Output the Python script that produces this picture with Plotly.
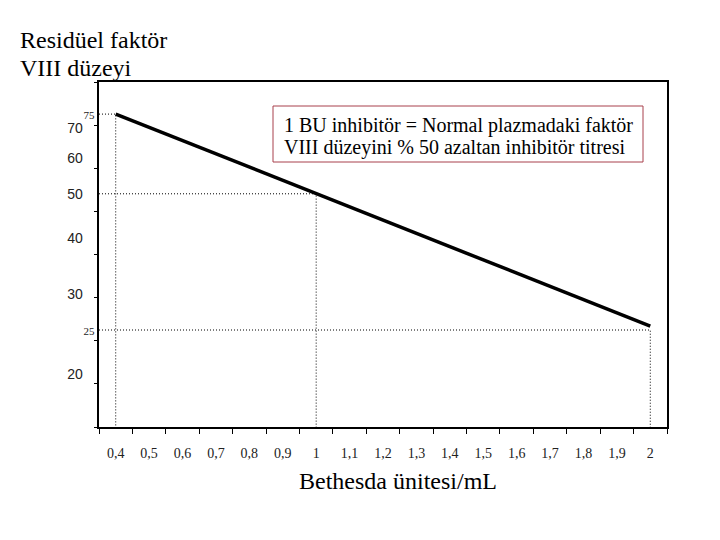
import math
import plotly.graph_objects as go

# Data
bu_values = [0.4, 1.0, 2.0]
residual_values = [75, 50, 25.5]

guide_points_x = [0.4, 1.0, 2.0]
guide_points_y = [75, 50, 25]

x_tickvals = [0.4, 0.5, 0.6, 0.7, 0.8, 0.9, 1.0, 1.1, 1.2, 1.3, 1.4, 1.5, 1.6, 1.7, 1.8, 1.9, 2.0]
x_ticktext = ["0,4", "0,5", "0,6", "0,7", "0,8", "0,9", "1", "1,1", "1,2", "1,3",
              "1,4", "1,5", "1,6", "1,7", "1,8", "1,9", "2"]

y_tickvals = [20, 25, 30, 40, 50, 60, 70, 75]
y_small = {25, 75}

title_lines = ["Residüel faktör", "VIII düzeyi"]
note_lines = ["1 BU inhibitör = Normal plazmadaki faktör",
              "VIII düzeyini % 50 azaltan inhibitör titresi"]
x_title = "Bethesda ünitesi/mL"

X_MIN, X_MAX = 0.35, 2.05
Y_LOG_MIN, Y_LOG_MAX = 1.1836, 1.946
Y_MIN = 10 ** Y_LOG_MIN

serif = "Liberation Serif, Times New Roman, serif"
sans = "Liberation Sans, Arial, sans-serif"

# page has an 8px body margin; target pixel positions are in screenshot coords
OFF = 8
PL, PR, PT, PB = 99, 667, 82, 427
W, H = 720, 540
PW, PH = PR - PL, PB - PT


def px_x(x):
    return (x - PL) / PW


def px_y(y):
    return 1 - (y - PT) / PH


y_ticktext = []
for v in y_tickvals:
    if v in y_small:
        y_ticktext.append(f'<span style="font-family:{serif};font-size:11px">{v}</span>')
    else:
        y_ticktext.append(f"{v}" + "\u00a0" * 3)

fig = go.Figure()

# dotted guide lines
for gx, gy in zip(guide_points_x, guide_points_y):
    fig.add_trace(go.Scatter(
        x=[X_MIN, gx, gx], y=[gy, gy, Y_MIN],
        mode="lines", line=dict(color="black", width=1, dash="1px,2px"),
        hoverinfo="skip", showlegend=False))

# main line
fig.add_trace(go.Scatter(
    x=bu_values, y=residual_values, mode="lines",
    line=dict(color="black", width=3.5), showlegend=False))

# invisible trace for tick overlay axis
fig.add_trace(go.Scatter(x=[X_MIN], y=[0], yaxis="y2", mode="markers",
                         marker=dict(opacity=0), hoverinfo="skip", showlegend=False))

annotations = []
for i, t in enumerate(title_lines):
    annotations.append(dict(
        text=t, xref="paper", yref="paper", x=px_x(18), y=px_y([40, 68][i]),
        xanchor="left", yanchor="middle", showarrow=False,
        font=dict(family=serif, size=24, color="black")))
annotations.append(dict(
    text=x_title, xref="paper", yref="paper", x=px_x(398), y=px_y(481),
    xanchor="center", yanchor="middle", showarrow=False,
    font=dict(family=serif, size=24, color="black")))
for i, t in enumerate(note_lines):
    annotations.append(dict(
        text=t, xref="paper", yref="paper", x=px_x(282), y=px_y([125, 147][i]),
        xanchor="left", yanchor="middle", showarrow=False,
        font=dict(family=serif, size=20, color="black")))

fig.update_layout(
    width=W, height=H,
    margin=dict(l=PL - OFF, r=W - PR + OFF, t=PT - OFF, b=H - PB + OFF),
    paper_bgcolor="white", plot_bgcolor="white",
    xaxis=dict(
        range=[X_MIN, X_MAX], tickvals=x_tickvals, ticktext=x_ticktext,
        ticks="", showgrid=False, zeroline=False,
        showline=True, linecolor="black", linewidth=1.5, mirror=True,
        tickfont=dict(family=serif, size=14, color="#222"),
        ticklabelstandoff=12,
        minor=dict(tick0=X_MIN, dtick=0.1, ticks="outside", ticklen=5,
                   tickcolor="black", showgrid=False),
    ),
    yaxis=dict(
        type="log", range=[Y_LOG_MIN, Y_LOG_MAX],
        tickvals=y_tickvals, ticktext=y_ticktext, ticks="",
        showgrid=False, zeroline=False,
        showline=True, linecolor="black", linewidth=1.5, mirror=True,
        tickfont=dict(family=sans, size=14, color="#222"),
    ),
    yaxis2=dict(
        overlaying="y", side="left", range=[0, 8],
        tickvals=list(range(9)), ticks="outside", ticklen=4, tickcolor="black",
        showticklabels=False, showgrid=False, zeroline=False, showline=False,
    ),
    shapes=[dict(type="rect", xref="paper", yref="paper",
                 x0=px_x(273), x1=px_x(643), y0=px_y(162), y1=px_y(106),
                 line=dict(color="#a8404c", width=1), fillcolor="white", layer="below")],
    annotations=annotations,
)

fig.write_html("out.html")
